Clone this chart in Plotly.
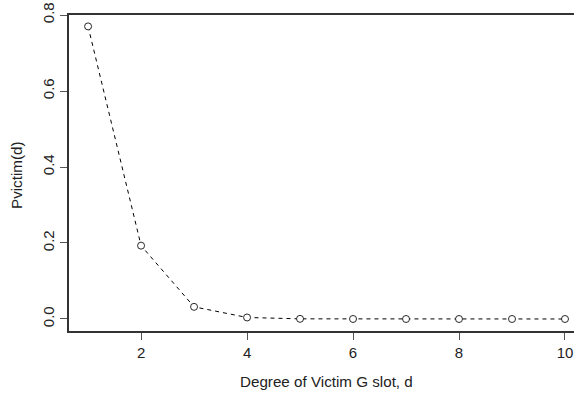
import plotly.graph_objects as go

degree = [1, 2, 3, 4, 5, 6, 7, 8, 9, 10]
pvictim = [0.770, 0.193, 0.032, 0.004, 0.0004, 0.00003, 0.0, 0.0, 0.0, 0.0]
x_ticks = [2, 4, 6, 8, 10]
y_ticks = [0.0, 0.2, 0.4, 0.6, 0.8]
y_tick_labels = ["0.0", "0.2", "0.4", "0.6", "0.8"]

font = "Liberation Sans, Arial, Helvetica, sans-serif"
axis_col = "#333333"

W, H = 574, 393
L, R, T, B = 69, 0, 15, 62
pw, ph = W - L - R, H - T - B


def px_x(px):
    return (px - L) / pw


def px_y(py):
    return (H - B - py) / ph


fig = go.Figure()
fig.add_trace(go.Scatter(
    x=degree, y=pvictim, mode="lines+markers",
    line=dict(color="black", width=1, dash="4px,4px"),
    marker=dict(symbol="circle", size=7, color="white",
                line=dict(width=0.9, color="#111111")),
    showlegend=False, hoverinfo="skip", cliponaxis=False,
))

fig.update_layout(
    width=W, height=H,
    margin=dict(l=L, r=R, t=T, b=B, autoexpand=False),
    plot_bgcolor="white", paper_bgcolor="white",
    font=dict(family=font, size=15, color="#222222"),
    xaxis=dict(
        range=[0.64, 10.17], tickvals=x_ticks, ticks="outside", ticklen=7,
        tickcolor="#555555", tickwidth=1, showline=True, linecolor=axis_col,
        linewidth=1.6, mirror=True, showgrid=False, zeroline=False,
        tickfont=dict(size=15), automargin=False,
    ),
    yaxis=dict(
        range=[-0.0316, 0.8], tickvals=y_ticks, ticktext=y_tick_labels,
        ticks="outside", ticklen=7, tickcolor="#555555", tickwidth=1,
        showline=True, linecolor=axis_col, linewidth=1.6, mirror=False,
        showgrid=False, zeroline=False, tickangle=-90, tickfont=dict(size=15),
        automargin=False,
    ),
    annotations=[
        dict(text="Degree of Victim G slot, d", x=px_x(326.5), y=px_y(381),
             xref="paper", yref="paper", xanchor="center", yanchor="middle",
             showarrow=False, font=dict(size=15.2)),
        dict(text="Pvictim(d)", x=px_x(16), y=px_y(175), textangle=-90,
             xref="paper", yref="paper", xanchor="center", yanchor="middle",
             showarrow=False, font=dict(size=15.2)),
    ],
)

fig.write_html(
    "out.html",
    config={"displayModeBar": False, "staticPlot": True},
    post_script="document.body.style.margin='0';document.body.style.padding='0';",
)
